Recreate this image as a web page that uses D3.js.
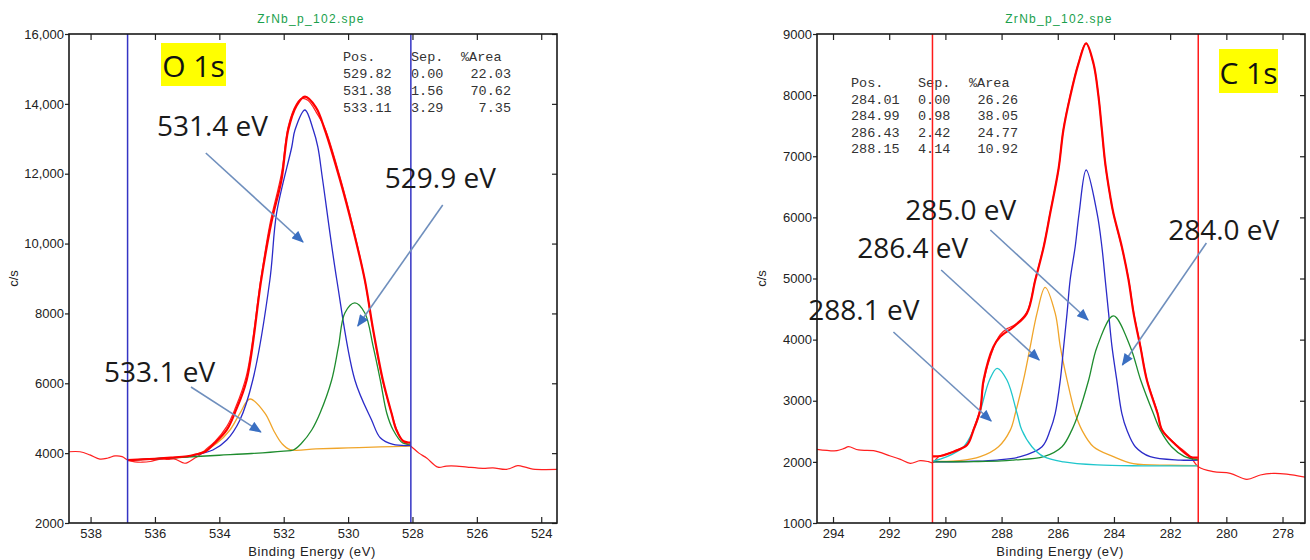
<!DOCTYPE html>
<html>
<head>
<meta charset="utf-8">
<script src="https://cdn.jsdelivr.net/npm/d3@7"></script>
<style>
  body { margin: 0; background: #fff; }
  svg { display: block; }
</style>
</head>
<body>
<svg id="chart" width="1310" height="560"></svg>
<script>
// ---------- O 1s (left panel) ----------
var o1sRaw = [
  [538.67,4040],[538.33,4040],[538.02,3950],[537.71,3830],[537.46,3860],[537.24,3920],[537.02,3900],
  [536.84,3800],[536.62,3750],[536.4,3740],[536.15,3760],[535.84,3830],[535.6,3820],[535.38,3830],
  [535.07,3710],[534.76,3860],[534.6,3950],[534.45,4080],[534.14,4330],[533.77,4760],[533.52,5250],
  [533.15,6250],[532.7,9050],[532.43,10550],[532.07,12000],[531.86,13350],[531.6,14000],[531.45,14150],
  [531.25,14100],[530.95,13700],[530.72,13300],[530.25,11900],[529.84,10450],[529.48,8950],[529.22,7500],
  [528.92,6050],[528.65,5150],[528.5,4700],[528.29,4330],[528.05,4200],[527.8,4000],[527.56,3860],
  [527.21,3600],[526.95,3630],[526.63,3630],[526.3,3600],[525.81,3565],[525.5,3580],[525.08,3535],
  [524.73,3640],[524.5,3600],[524.26,3545],[523.5,3535]
];
var o1sEnvelope = [
  [536.85,3800],[536.0,3840],[535.5,3870],[535.0,3910],[534.75,3960],[534.45,4040],[534.14,4290],
  [533.77,4663],[533.52,5150],[533.15,6094],[532.7,8957],[532.43,10390],[532.32,10867],[532.07,11820],
  [531.86,13250],[531.6,13950],[531.34,14205],[531.0,13900],[530.72,13250],[530.25,11820],[529.84,10390],
  [529.48,8957],[529.22,7525],[528.92,6094],[528.65,5140],[528.5,4663],[528.29,4350],[528.05,4300]
];
var o1sPeak533 = [
  [536.85,3800],[536.0,3840],[535.5,3865],[535.0,3895],[534.5,4040],[534.08,4280],[533.67,4663],
  [533.36,5140],[533.05,5550],[532.58,5140],[532.32,4663],[532.06,4280],[531.8,4100],[531.0,4120],
  [530.0,4150],[529.0,4180],[528.05,4200]
];
var o1sPeak531 = [
  [536.85,3800],[536.0,3840],[535.5,3865],[535.0,3900],[534.6,3980],[534.2,4090],[533.77,4376],
  [533.36,4950],[532.96,6094],[532.43,8957],[532.22,10876],[531.75,12765],[531.65,13250],[531.34,13824],
  [531.08,13250],[530.94,12765],[530.79,11820],[530.35,8957],[529.79,6094],[529.27,4950],[529.0,4440],
  [528.6,4250],[528.05,4220]
];
var o1sPeak529 = [
  [536.85,3800],[536.0,3840],[535.0,3890],[534.0,3940],[533.0,3990],[532.0,4060],[531.7,4090],
  [531.44,4290],[531.13,4663],[530.87,5150],[530.51,6094],[530.3,7048],[530.1,8012],[529.79,8300],
  [529.48,8012],[529.22,7048],[529.0,6094],[528.8,5150],[528.6,4663],[528.3,4290],[528.05,4260]
];
var o1sXTicks = [538, 536, 534, 532, 530, 528, 526, 524];
var o1sYTicks = [2000, 4000, 6000, 8000, 10000, 12000, 14000, 16000];
var o1sYTickLabels = ['2000', '4000', '6000', '8000', '10,000', '12,000', '14,000', '16,000'];
var o1sWindow = [536.85, 528.05];
var o1sTablePos = ['529.82', '531.38', '533.11'];
var o1sTableSep = ['0.00', '1.56', '3.29'];
var o1sTableArea = ['22.03', '70.62', '7.35'];
var o1sLabels = ['531.4 eV', '529.9 eV', '533.1 eV'];
var o1sLabelAt = [[535.94, 13080], [528.86, 11591], [537.58, 6037]];
var o1sArrowFrom = [[534.42, 12593], [527.06, 11104], [534.88, 5894]];
var o1sArrowTo = [[531.40, 10045], [529.70, 7640], [532.71, 4605]];

// ---------- C 1s (right panel) ----------
var c1sRaw = [
  [294.57,2205],[293.86,2183],[293.6,2220],[293.45,2248],[293.09,2195],[292.56,2183],[291.96,2096],
  [291.6,2040],[291.25,1977],[290.9,2020],[290.6,2003],[290.46,1985],[290.3,2060],[290.18,2100],
  [289.71,2170],[289.23,2290],[289.0,2540],[288.76,2870],[288.64,3300],[288.29,3860],[288.05,4080],
  [287.8,4180],[287.57,4230],[287.1,4450],[286.8,4990],[286.5,5530],[286.27,6080],[285.97,6800],
  [285.8,7440],[285.56,7990],[285.26,8530],[285.0,8850],[284.73,8510],[284.55,7990],[284.43,7420],
  [284.31,6870],[284.13,6330],[284.02,6060],[283.72,5510],[283.48,4990],[283.3,4450],[283.06,3900],
  [282.83,3350],[282.45,2810],[282.29,2530],[281.85,2310],[281.29,2090],[281.0,1921],[280.46,1840],
  [279.86,1813],[279.27,1715],[278.79,1785],[278.32,1813],[277.85,1800],[277.19,1750]
];
var c1sEnvelope = [
  [290.46,2090],[290.18,2096],[289.71,2167],[289.23,2276],[289.0,2520],[288.76,2849],[288.64,3340],
  [288.29,3885],[288.05,4048],[287.57,4211],[287.1,4430],[286.8,4975],[286.5,5520],[286.27,6067],
  [285.97,6800],[285.8,7430],[285.56,7975],[285.26,8520],[284.99,8848],[284.73,8520],[284.55,7975],
  [284.43,7430],[284.31,6885],[284.13,6340],[284.02,6067],[283.72,5520],[283.48,4975],[283.3,4430],
  [283.06,3885],[282.83,3340],[282.45,2795],[282.29,2520],[281.85,2300],[281.29,2085],[281.0,2070]
];
var c1sPeak288 = [
  [290.46,2010],[289.94,2085],[289.35,2248],[289.0,2520],[288.78,2795],[288.43,3340],[288.16,3531],
  [287.81,3340],[287.45,2795],[287.28,2520],[286.92,2248],[286.5,2085],[285.79,2000],[284.6,1950],
  [283.0,1935],[281.0,1933]
];
var c1sPeak286 = [
  [290.46,2010],[289.5,2020],[288.76,2085],[288.11,2248],[287.69,2520],[287.51,2795],[287.22,3340],
  [286.98,3885],[286.74,4430],[286.45,4856],[286.09,4430],[285.91,3885],[285.67,3340],[285.38,2795],
  [285.14,2520],[284.73,2248],[284.02,2085],[283.31,1970],[282.0,1945],[281.0,1940]
];
var c1sPeak285 = [
  [290.46,2000],[289.0,2010],[288.16,2030],[287.33,2085],[286.56,2248],[286.27,2520],[286.09,2795],
  [285.91,3340],[285.79,3885],[285.67,4430],[285.56,4975],[285.38,5520],[285.24,6067],[284.99,6775],
  [284.6,6067],[284.43,5520],[284.31,4975],[284.19,4430],[284.07,3885],[283.9,3340],[283.72,2795],
  [283.54,2520],[283.24,2248],[282.71,2085],[281.64,2030],[281.0,2030]
];
var c1sPeak284 = [
  [290.46,2000],[289.0,2005],[288.0,2015],[287.58,2030],[286.5,2085],[285.85,2248],[285.5,2520],
  [285.26,2795],[284.9,3340],[284.6,3885],[284.02,4387],[283.42,3885],[283.05,3340],[282.6,2795],
  [282.35,2520],[281.95,2248],[281.5,2090],[281.0,2035]
];
var c1sXTicks = [294, 292, 290, 288, 286, 284, 282, 280, 278];
var c1sYTicks = [1000, 2000, 3000, 4000, 5000, 6000, 7000, 8000, 9000];
var c1sYTickLabels = ['1000', '2000', '3000', '4000', '5000', '6000', '7000', '8000', '9000'];
var c1sWindow = [290.46, 281.0];
var c1sTablePos = ['284.01', '284.99', '286.43', '288.15'];
var c1sTableSep = ['0.00', '0.98', '2.42', '4.14'];
var c1sTableArea = ['26.26', '38.05', '24.77', '10.92'];
var c1sLabels = ['285.0 eV', '286.4 eV', '288.1 eV', '284.0 eV'];
var c1sLabelAt = [[291.43, 5957], [293.14, 5335], [294.88, 4321], [282.07, 5630]];
var c1sArrowFrom = [[288.40, 5793], [290.15, 5139], [291.85, 4125], [280.71, 5581]];
var c1sArrowTo = [[284.92, 4321], [286.66, 3667], [288.37, 2669], [283.70, 3585]];

var fileTitle = 'ZrNb_p_102.spe';

var W = 488, H = 489;
var svg = d3.select('#chart');

var defs = svg.append('defs');
defs.append('marker')
    .attr('id', 'arrowhead')
    .attr('viewBox', '0 0 12 10')
    .attr('refX', 11).attr('refY', 5)
    .attr('markerWidth', 13).attr('markerHeight', 10)
    .attr('markerUnits', 'userSpaceOnUse')
    .attr('orient', 'auto')
  .append('path')
    .attr('d', 'M0,0 L12,5 L0,10 z')
    .attr('fill', '#3a6fc2');

var drawPanel = function(p) {
    var g = svg.append('g').attr('transform', 'translate(' + p.left + ',' + p.top + ')');
    var x = d3.scaleLinear().domain(p.xDomain).range([0, W]);
    var y = d3.scaleLinear().domain(p.yDomain).range([H, 0]);

    defs.append('clipPath').attr('id', p.id + '-clip')
      .append('rect').attr('width', W).attr('height', H);

    var line = d3.line()
        .x(function(d) { return x(d[0]); })
        .y(function(d) { return y(d[1]); })
        .curve(d3.curveCatmullRom.alpha(0.5));

    var plot = g.append('g').attr('clip-path', 'url(#' + p.id + '-clip)');

    plot.append('path').datum(p.raw)
        .attr('d', line).attr('fill', 'none')
        .attr('stroke', '#ff2020').attr('stroke-width', 1.2);

    p.peaks.forEach(function(pk) {
        plot.append('path').datum(pk.data)
            .attr('d', line).attr('fill', 'none')
            .attr('stroke', pk.color).attr('stroke-width', 1.3);
    });

    plot.append('path').datum(p.envelope)
        .attr('d', line).attr('fill', 'none')
        .attr('stroke', '#ff0000').attr('stroke-width', 2.2);

    // fit result table
    var tbl = g.append('g')
        .attr('font-family', '"Liberation Mono", "Courier New", monospace')
        .attr('font-size', 13.5).attr('fill', '#333');
    tbl.append('text').attr('x', p.table.posX).attr('y', p.table.y0).text('Pos.');
    tbl.append('text').attr('x', p.table.sepX).attr('y', p.table.y0).text('Sep.');
    tbl.append('text').attr('x', p.table.areaX).attr('y', p.table.y0).text('%Area');
    p.tablePos.forEach(function(v, i) {
        var yy = p.table.y0 + (i + 1) * p.table.dy;
        tbl.append('text').attr('x', p.table.posX).attr('y', yy).text(v);
        tbl.append('text').attr('x', p.table.sepX).attr('y', yy).text(p.tableSep[i]);
        tbl.append('text').attr('x', p.table.areaEnd).attr('y', yy)
            .attr('text-anchor', 'end').text(p.tableArea[i]);
    });

    // fit window lines
    p.window.forEach(function(w) {
        g.append('line')
            .attr('x1', x(w)).attr('x2', x(w))
            .attr('y1', 0).attr('y2', H)
            .attr('stroke', p.windowColor).attr('stroke-width', 1.5);
    });

    // axes
    var styleAxis = function(sel) {
        sel.select('.domain').remove();
        sel.selectAll('.tick line').attr('stroke', '#222').attr('stroke-width', 1.2);
        sel.selectAll('.tick text')
            .attr('fill', '#222')
            .attr('font-family', '"Liberation Sans", Arial, sans-serif')
            .attr('font-size', 13);
    };
    g.append('g').attr('transform', 'translate(0,' + H + ')')
        .call(d3.axisBottom(x).tickValues(p.xTicks).tickSizeInner(-6).tickSizeOuter(0)
              .tickPadding(6).tickFormat(d3.format('d')))
        .call(styleAxis);
    g.append('g')
        .call(d3.axisTop(x).tickValues(p.xTicks).tickSizeInner(-6).tickSizeOuter(0).tickFormat(''))
        .call(styleAxis);
    g.append('g')
        .call(d3.axisLeft(y).tickValues(p.yTicks).tickSizeInner(4).tickSizeOuter(0).tickPadding(1)
              .tickFormat(function(d, i) { return p.yTickLabels[i]; }))
        .call(styleAxis);
    g.append('g').attr('transform', 'translate(' + W + ',0)')
        .call(d3.axisRight(y).tickValues(p.yTicks).tickSizeInner(-5).tickSizeOuter(0).tickFormat(''))
        .call(styleAxis);

    g.append('rect').attr('width', W).attr('height', H)
        .attr('fill', 'none').attr('stroke', '#1a1a1a').attr('stroke-width', 1.6);

    // titles
    g.append('text').attr('x', W / 2 - 2).attr('y', -11)
        .attr('text-anchor', 'middle')
        .attr('font-family', '"Liberation Sans", Arial, sans-serif')
        .attr('font-size', 12).attr('letter-spacing', 1.3)
        .attr('fill', '#1a9f4c').text(fileTitle);
    g.append('text').attr('x', W / 2 - 1).attr('y', H + 33)
        .attr('text-anchor', 'middle')
        .attr('font-family', '"Liberation Sans", Arial, sans-serif')
        .attr('font-size', 13).attr('letter-spacing', 0.6)
        .attr('fill', '#222').text('Binding Energy (eV)');
    g.append('text')
        .attr('transform', 'translate(-51,' + (H / 2) + ') rotate(-90)')
        .attr('text-anchor', 'middle')
        .attr('font-family', '"Liberation Sans", Arial, sans-serif')
        .attr('font-size', 13).attr('fill', '#222').text('c/s');

    // region tag
    g.append('rect')
        .attr('x', p.tag.x).attr('y', p.tag.y).attr('width', p.tag.w).attr('height', p.tag.h)
        .attr('fill', '#ffff00');
    g.append('text')
        .attr('x', p.tag.x + p.tag.w / 2).attr('y', p.tag.y + p.tag.base)
        .attr('text-anchor', 'middle')
        .attr('font-family', '"Open Sans", "Noto Sans", sans-serif')
        .attr('font-size', 30).attr('fill', '#111').text(p.tag.text);

    // peak annotations
    p.labels.forEach(function(t, i) {
        g.append('line')
            .attr('x1', x(p.arrowFrom[i][0])).attr('y1', y(p.arrowFrom[i][1]))
            .attr('x2', x(p.arrowTo[i][0])).attr('y2', y(p.arrowTo[i][1]))
            .attr('stroke', '#6f8fbd').attr('stroke-width', 1.6)
            .attr('marker-end', 'url(#arrowhead)');
        g.append('text')
            .attr('x', x(p.labelAt[i][0])).attr('y', y(p.labelAt[i][1]))
            .attr('font-family', '"Open Sans", "Noto Sans", sans-serif')
            .attr('font-size', 28).attr('fill', '#1a1a1a').text(t);
    });
};

drawPanel({
    id: 'o1s', left: 69, top: 34,
    xDomain: [538.67, 523.51], yDomain: [2000, 16000],
    raw: o1sRaw, envelope: o1sEnvelope,
    peaks: [
        { data: o1sPeak533, color: '#f0a52a' },
        { data: o1sPeak531, color: '#2b2bc8' },
        { data: o1sPeak529, color: '#1e8c2e' }
    ],
    xTicks: o1sXTicks, yTicks: o1sYTicks, yTickLabels: o1sYTickLabels,
    window: o1sWindow, windowColor: '#3434c4',
    tablePos: o1sTablePos, tableSep: o1sTableSep, tableArea: o1sTableArea,
    table: { posX: 274, sepX: 342, areaX: 392, areaEnd: 442, y0: 27, dy: 17 },
    tag: { text: 'O 1s', x: 92, y: 9, w: 65, h: 43, base: 34 },
    labels: o1sLabels, labelAt: o1sLabelAt, arrowFrom: o1sArrowFrom, arrowTo: o1sArrowTo
});

drawPanel({
    id: 'c1s', left: 817, top: 34,
    xDomain: [294.57, 277.2], yDomain: [1000, 9000],
    raw: c1sRaw, envelope: c1sEnvelope,
    peaks: [
        { data: c1sPeak286, color: '#f0a52a' },
        { data: c1sPeak285, color: '#2b2bc8' },
        { data: c1sPeak284, color: '#1e8c2e' },
        { data: c1sPeak288, color: '#1fc6cc' }
    ],
    xTicks: c1sXTicks, yTicks: c1sYTicks, yTickLabels: c1sYTickLabels,
    window: c1sWindow, windowColor: '#ff1a1a',
    tablePos: c1sTablePos, tableSep: c1sTableSep, tableArea: c1sTableArea,
    table: { posX: 34, sepX: 101, areaX: 152, areaEnd: 201, y0: 53, dy: 16.5 },
    tag: { text: 'C 1s', x: 402, y: 15, w: 59, h: 44, base: 35 },
    labels: c1sLabels, labelAt: c1sLabelAt, arrowFrom: c1sArrowFrom, arrowTo: c1sArrowTo
});
</script>
</body>
</html>
